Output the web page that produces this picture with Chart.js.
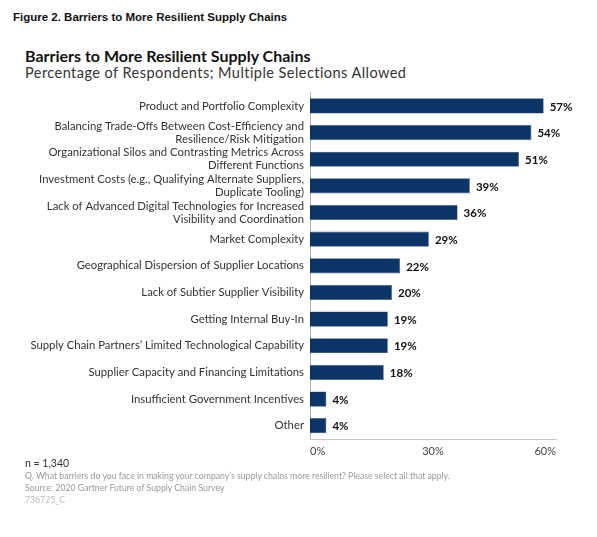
<!DOCTYPE html>
<html>
<head>
<meta charset="utf-8">
<script src="https://cdn.jsdelivr.net/npm/chart.js@4"></script>
<style>
  body { margin: 0; width: 597px; height: 537px; background: #fff; position: relative; overflow: hidden; font-family: Lato, sans-serif; }
  .t { position: absolute; white-space: nowrap; }
  #fig { left: 13px; top: 11px; line-height: 16px; font: bold 11.5px "Liberation Sans", Arial, sans-serif; color: #111; }
  #title { left: 25px; top: 46px; line-height: 20px; font-weight: bold; font-size: 16px; color: #111; }
  #sub { left: 25px; top: 64px; line-height: 18px; font-size: 14.5px; letter-spacing: 0.45px; color: #333; }
  #n { left: 25px; top: 456px; line-height: 14px; font-size: 10.5px; color: #333; }
  #q { left: 25px; top: 470px; line-height: 12px; font-size: 8.7px; color: #999; }
  #src { left: 25px; top: 482px; line-height: 12px; font-size: 8.7px; color: #999; }
  #code { left: 25px; top: 494px; line-height: 12px; font-size: 8.7px; color: #bbb; }
  #chart { position: absolute; left: 0; top: 80px; }
</style>
</head>
<body>
<div class="t" id="fig">Figure 2. Barriers to More Resilient Supply Chains</div>
<div class="t" id="title">Barriers to More Resilient Supply Chains</div>
<div class="t" id="sub">Percentage of Respondents; Multiple Selections Allowed</div>
<canvas id="chart" width="597" height="390"></canvas>
<div class="t" id="n">n = 1,340</div>
<div class="t" id="q">Q. What barriers do you face in making your company’s supply chains more resilient? Please select all that apply.</div>
<div class="t" id="src">Source: 2020 Gartner Future of Supply Chain Survey</div>
<div class="t" id="code">736725_C</div>
<script>
const categories = [
   'Product and Portfolio Complexity',
   ['Balancing Trade-Offs Between Cost-Efficiency and', 'Resilience/Risk Mitigation'],
   ['Organizational Silos and Contrasting Metrics Across', 'Different Functions'],
   ['Investment Costs (e.g., Qualifying Alternate Suppliers,', 'Duplicate Tooling)'],
   ['Lack of Advanced Digital Technologies for Increased', 'Visibility and Coordination'],
   'Market Complexity',
   'Geographical Dispersion of Supplier Locations',
   'Lack of Subtier Supplier Visibility',
   'Getting Internal Buy-In',
   'Supply Chain Partners’ Limited Technological Capability',
   'Supplier Capacity and Financing Limitations',
   'Insufficient Government Incentives',
   'Other'
];
const values = [57, 54, 51, 39, 36, 29, 22, 20, 19, 19, 18, 4, 4];
const xTicks = [0, 30, 60];

// etiquetas de valor ao lado das barras
const valueLabels = {
   id: 'valueLabels',
   afterDatasetsDraw(chart) {
      const ctx = chart.ctx;
      ctx.save();
      ctx.font = 'bold 11.5px Lato';
      ctx.fillStyle = '#111';
      ctx.textAlign = 'left';
      ctx.textBaseline = 'middle';
      chart.getDatasetMeta(0).data.forEach((bar, i) => {
         ctx.fillText(values[i] + '%', bar.x + 6, bar.y + 1);
      });
      ctx.restore();
   }
};

new Chart(document.getElementById('chart'), {
   type: 'bar',
   data: {
      labels: categories,
      datasets: [{
         data: values,
         backgroundColor: '#0c3567',
         borderColor: '#3d5f8a',
         borderWidth: 0.6,
         barPercentage: 0.57,
         categoryPercentage: 1
      }]
   },
   options: {
      indexAxis: 'y',
      responsive: false,
      animation: false,
      layout: { padding: { top: 11.6, right: 41, left: 0, bottom: 0 } },
      scales: {
         y: {
            grid: { display: false, drawTicks: false },
            border: { display: true, color: '#b5b5b5', width: 1 },
            afterFit: (scale) => { scale.width = 310; },
            ticks: {
               padding: 6,
               color: '#333',
               font: { family: 'Lato', size: 11.3, lineHeight: 1.17 },
               autoSkip: false
            }
         },
         x: {
            min: xTicks[0],
            max: xTicks[xTicks.length - 1],
            grid: { display: false, drawTicks: false },
            border: { display: true, color: '#c8c8c8', width: 1 },
            afterFit: (scale) => { scale.height = 31; },
            afterBuildTicks: (scale) => { scale.ticks = xTicks.map(v => ({ value: v })); },
            ticks: {
               align: 'inner',
               padding: 6,
               color: '#444',
               font: { family: 'Lato', size: 11 },
               callback: (v) => v + '%'
            }
         }
      },
      plugins: {
         legend: { display: false },
         tooltip: { enabled: false }
      }
   },
   plugins: [valueLabels]
});
</script>
</body>
</html>
